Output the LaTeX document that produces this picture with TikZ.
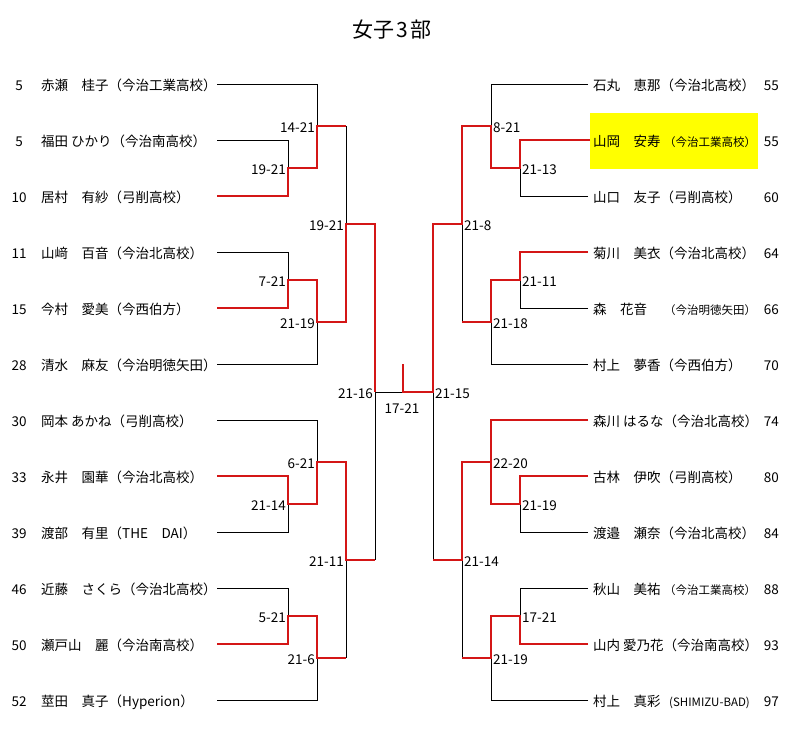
\documentclass[tikz,border=0pt]{standalone}
\usepackage{fontspec}
\setmainfont{Noto Sans CJK JP}
\definecolor{wred}{RGB}{212,22,22}
\definecolor{hlyellow}{RGB}{255,255,0}
\begin{document}
\begin{tikzpicture}[x=1pt,y=-1pt,
  lose/.style={line width=1pt,draw=black},
  win/.style={line width=2.5pt,draw=wred,line join=miter},
  txt/.style={inner sep=0pt,font=\fontsize{13.5}{16}\selectfont},
  pname/.style={txt,anchor=base west},
  seedno/.style={txt,anchor=base},
  rno/.style={txt,anchor=base east},
  scL/.style={txt,anchor=base east},
  scR/.style={txt,anchor=base west},
  small/.style={inner sep=0pt,anchor=base west,font=\fontsize{11.5}{13}\selectfont}]
\useasboundingbox (0,0) rectangle (786,729);
\fill[white] (0,0) rectangle (786,729);

% title
\node[inner sep=0pt,anchor=base,font=\fontsize{21}{24}\selectfont] (title) at (392,37) {女子\hspace{2pt}3\hspace{2pt}部};

% highlight
\fill[hlyellow] (590,112.5) rectangle (758,168.5);

% ---------- left names ----------
\foreach \i/\s/\n [count=\k from 0] in {
  1/5/赤瀬　桂子（今治工業高校）,
  2/5/福田 ひかり（今治南高校）,
  3/10/居村　有紗（弓削高校）,
  4/11/山﨑　百音（今治北高校）,
  5/15/今村　愛美（今西伯方）,
  6/28/清水　麻友（今治明徳矢田）,
  7/30/岡本 あかね（弓削高校）,
  8/33/永井　園華（今治北高校）,
  9/39/渡部　有里（THE　DAI）,
  10/46/近藤　さくら（今治北高校）,
  11/50/瀬戸山　麗（今治南高校）,
  12/52/莖田　真子（Hyperion）}{
  \node[seedno] (ls\i) at (19,{90+56*\k}) {\s};
  \node[pname] (ln\i) at (41,{90+56*\k}) {\n};
}

% ---------- right names ----------
\foreach \i/\s/\n [count=\k from 0] in {
  1/55/石丸　恵那（今治北高校）,
  2/55/山岡　安寿,
  3/60/山口　友子（弓削高校）,
  4/64/菊川　美衣（今治北高校）,
  5/66/森　花音,
  6/70/村上　夢香（今西伯方）,
  7/74/森川 はるな（今治北高校）,
  8/80/古林　伊吹（弓削高校）,
  9/84/渡邉　瀬奈（今治北高校）,
  10/88/秋山　美祐,
  11/93/山内 愛乃花（今治南高校）,
  12/97/村上　真彩}{
  \node[pname] (rn\i) at (593,{90+56*\k}) {\n};
  \node[rno] (rs\i) at (779,{90+56*\k}) {\s};
}
\node[small] (rc2) at (664,146) {（今治工業高校）};
\node[small] (rc5) at (664,314) {（今治明徳矢田）};
\node[small] (rc10) at (664,594) {（今治工業高校）};
\node[small] (rc12) at (669,706) {(SHIMIZU-BAD)};

% ---------- left bracket: losers ----------
\draw[lose] (217,84)-|(317,126);
\draw[lose] (217,140)-|(288,168);
\draw[lose] (217,252)-|(288,280);
\draw[lose] (217,364)-|(317,322);
\draw[lose] (346,126)--(346,224);
\draw[lose] (217,420)-|(317,462);
\draw[lose] (217,532)-|(288,504);
\draw[lose] (217,588)-|(288,616);
\draw[lose] (217,700)-|(317,658);
\draw[lose] (346,560)--(346,658);
\draw[lose] (375,392)--(375,560);
\draw[lose] (375,392)--(403,392);

% ---------- right bracket: losers ----------
\draw[lose] (588,84)-|(491,126);
\draw[lose] (588,196)-|(520,168);
\draw[lose] (588,308)-|(520,280);
\draw[lose] (588,364)-|(491,322);
\draw[lose] (462,224)--(462,322);
\draw[lose] (588,532)-|(520,504);
\draw[lose] (588,588)-|(520,616);
\draw[lose] (588,700)-|(491,658);
\draw[lose] (462,560)--(462,658);
\draw[lose] (433,392)--(433,560);

% ---------- left bracket: winners ----------
\draw[win] (217,196)-|(288,168)-|(317,126)--(346,126);
\draw[win] (217,308)-|(288,280)-|(317,322)--(346,322)|-(375,224)--(375,392);
\draw[win] (217,476)-|(288,504)-|(317,462)--(346,462)|-(375,560);
\draw[win] (217,644)-|(288,616)-|(317,658)--(346,658);

% ---------- right bracket: winners ----------
\draw[win] (590,140)-|(520,168)-|(491,126)--(462,126)|-(433,224)--(433,392)--(403,392)--(403,364);
\draw[win] (588,252)-|(520,280)-|(491,322)--(462,322);
\draw[win] (588,420)-|(491,462)--(462,462)|-(433,560);
\draw[win] (588,476)-|(520,504)-|(491,462);
\draw[win] (588,644)-|(520,616)-|(491,658)--(462,658);

% ---------- scores left ----------
\node[scL] (sl1) at (315,132) {14-21};
\node[scL] (sl2) at (286,174) {19-21};
\node[scL] (sl3) at (344,230) {19-21};
\node[scL] (sl4) at (286,286) {7-21};
\node[scL] (sl5) at (315,328) {21-19};
\node[scL] (sl6) at (373,398) {21-16};
\node[scL] (sl7) at (315,468) {6-21};
\node[scL] (sl8) at (286,510) {21-14};
\node[scL] (sl9) at (344,566) {21-11};
\node[scL] (sl10) at (286,622) {5-21};
\node[scL] (sl11) at (315,664) {21-6};

% ---------- scores right ----------
\node[scR] (sr1) at (493,132) {8-21};
\node[scR] (sr2) at (522,174) {21-13};
\node[scR] (sr3) at (464,230) {21-8};
\node[scR] (sr4) at (522,286) {21-11};
\node[scR] (sr5) at (493,328) {21-18};
\node[scR] (sr6) at (435,398) {21-15};
\node[scR] (sr7) at (493,468) {22-20};
\node[scR] (sr8) at (522,510) {21-19};
\node[scR] (sr9) at (464,566) {21-14};
\node[scR] (sr10) at (522,622) {17-21};
\node[scR] (sr11) at (493,664) {21-19};

% final score
\node[txt,anchor=base] (fin) at (402,413) {17-21};
\end{tikzpicture}
\end{document}
